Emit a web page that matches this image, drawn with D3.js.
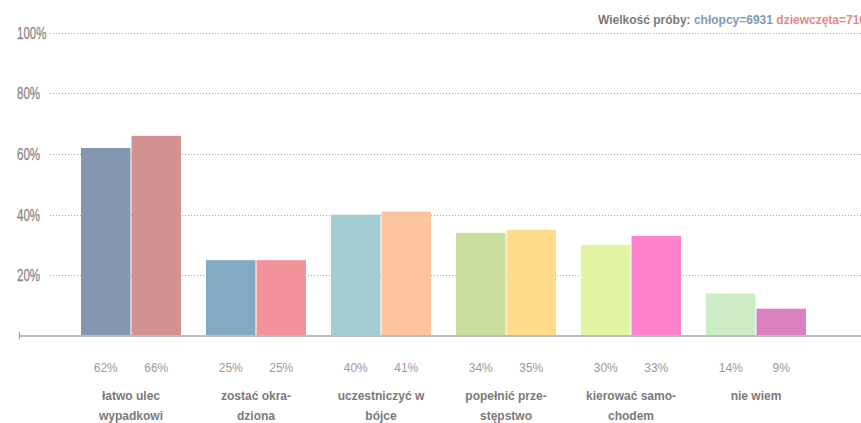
<!DOCTYPE html>
<html><head><meta charset="utf-8">
<script src="https://cdn.jsdelivr.net/npm/d3@7"></script>
<style>
html,body{margin:0;padding:0;background:#fff;overflow:hidden}
svg{display:block}
</style></head>
<body>
<svg id="chart" width="861" height="423"></svg>
<script>
const categories = ["łatwo ulec wypadkowi","zostać okradziona","uczestniczyć w bójce","popełnić przestępstwo","kierować samochodem","nie wiem"];
const categoryLines = [["łatwo ulec","wypadkowi"],["zostać okra-","dziona"],["uczestniczyć w","bójce"],["popełnić prze-","stępstwo"],["kierować samo-","chodem"],["nie wiem"]];
const series = ["chłopcy","dziewczęta"];
const boys = [62,25,40,34,30,14];
const girls = [66,25,41,35,33,9];
const boyColors = ["#8398b0","#83aac5","#a3cdd2","#c9de9f","#e3f4a2","#ccecc6"];
const girlColors = ["#d39292","#f2939b","#ffc49d","#ffdc8a","#ff82cf","#dc80c0"];
const yTicks = [20,40,60,80,100];
const yTickLabels = ["20%","40%","60%","80%","100%"];
const sampleSizes = {"chłopcy":"6931","dziewczęta":"7103"};

const svg = d3.select("#chart");
const W = 861;
const y = d3.scaleLinear().domain([0,100]).range([336,32.7]);
const xc = d3.scalePoint().domain(categories).range([131,756]);
const xs = d3.scaleBand().domain(series).range([-50,50]).paddingInner(0.02);

// gridlines
svg.append("g").selectAll("line").data(yTicks).join("line")
  .attr("x1",50).attr("x2",W)
  .attr("y1",d=>Math.round(y(d))+0.5).attr("y2",d=>Math.round(y(d))+0.5)
  .attr("stroke","#a8a8a8").attr("stroke-width",1).attr("stroke-dasharray","1,2");

// y labels (condensed look)
svg.append("g").selectAll("text").data(yTicks).join("text")
  .attr("transform",d=>`translate(17,${y(d)+1.5}) scale(0.7,1)`)
  .attr("dominant-baseline","middle")
  .attr("font-family","'Liberation Sans',Arial,sans-serif")
  .attr("font-size",16.5).attr("fill","#888")
  .attr("stroke","#888").attr("stroke-width",0.3)
  .text((d,i)=>yTickLabels[i]);

// bars
const rows = categories.map((c,i)=>[
  {cat:c,ser:"chłopcy",v:boys[i],col:boyColors[i]},
  {cat:c,ser:"dziewczęta",v:girls[i],col:girlColors[i]}
]).flat();

svg.append("g").selectAll("rect").data(rows).join("rect")
  .attr("x",d=>xc(d.cat)+xs(d.ser))
  .attr("width",xs.bandwidth())
  .attr("y",d=>y(d.v))
  .attr("height",d=>y(0)-y(d.v))
  .attr("fill",d=>d.col);

// axis line
svg.append("line").attr("x1",19).attr("x2",W).attr("y1",336).attr("y2",336)
  .attr("stroke","#bdbdbd").attr("stroke-width",2);
svg.append("line").attr("x1",19.5).attr("x2",19.5).attr("y1",332).attr("y2",339)
  .attr("stroke","#999").attr("stroke-width",1);

// value labels
svg.append("g").selectAll("text").data(rows).join("text")
  .attr("x",d=>xc(d.cat)+xs(d.ser)+xs.bandwidth()/2)
  .attr("y",372)
  .attr("text-anchor","middle")
  .attr("font-family","'Liberation Sans',Arial,sans-serif")
  .attr("font-size",12).attr("fill","#9a9a9a")
  .text(d=>d.v+"%");

// category labels
const cg = svg.append("g").selectAll("text").data(categories).join("text")
  .attr("x",d=>xc(d)).attr("y",400)
  .attr("text-anchor","middle")
  .attr("font-family","'Liberation Sans',Arial,sans-serif")
  .attr("font-weight","bold")
  .attr("font-size",12).attr("fill","#7a7a7a");
cg.selectAll("tspan").data((d,i)=>categoryLines[i]).join("tspan")
  .attr("x",function(){return xc(d3.select(this.parentNode).datum());})
  .attr("dy",(d,i)=>i===0?0:19.5)
  .text(d=>d);

// sample size title
const t = svg.append("text").attr("x",598).attr("y",24)
  .attr("font-family","'Liberation Sans',Arial,sans-serif")
  .attr("font-weight","bold").attr("font-size",12);
t.append("tspan").attr("fill","#7a7a7a").text("Wielkość próby: ");
t.append("tspan").attr("fill","#7f9ab4").text(series[0]+"="+sampleSizes[series[0]]+" ");
t.append("tspan").attr("fill","#e08a8a").text(series[1]+"="+sampleSizes[series[1]]);
</script>
</body></html>
